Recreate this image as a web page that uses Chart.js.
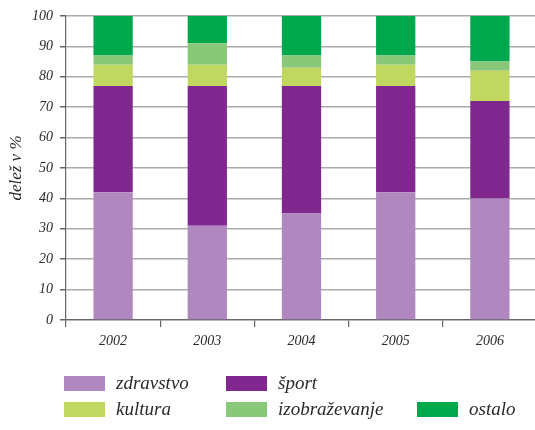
<!DOCTYPE html>
<html><head><meta charset="utf-8">
<script src="https://cdn.jsdelivr.net/npm/chart.js@4/dist/chart.umd.min.js"></script>
<style>
html,body{margin:0;padding:0;background:#fff;overflow:hidden;width:535px;height:430px;}
#wrap{position:absolute;left:0;top:0;width:540px;height:430px;}
#legend{position:absolute;left:0;top:0;width:535px;height:430px;pointer-events:none;font-family:"Liberation Serif",serif;font-style:italic;font-size:19px;color:#2a2a2a;}
.li{position:absolute;display:flex;align-items:center;}
.sw{width:41px;height:15px;margin-right:11px;}
</style></head>
<body>
<div id="wrap"><canvas id="c" width="540" height="430"></canvas></div>
<div id="legend"></div>
<script>
const categories = ["2002","2003","2004","2005","2006"];
const seriesNames = ["zdravstvo","šport","kultura","izobraževanje","ostalo"];
const zdravstvo = [42,31,35,42,40];
const sport = [35,46,42,35,32];
const kultura = [7,7,6,7,10];
const izobrazevanje = [3,7,4,3,3];
const ostalo = [13,9,13,13,15];
const yTicks = [0,10,20,30,40,50,60,70,80,90,100];
const colors = ["#b088bf","#80288f","#c0d860","#88c878","#00a84c"];
const values = [zdravstvo, sport, kultura, izobrazevanje, ostalo];

const font = {family:"'Liberation Serif', serif", style:"italic", size:14};
new Chart(document.getElementById('c'), {
  type:'bar',
  data:{labels:categories, datasets: seriesNames.map((n,i)=>({label:n,data:values[i],backgroundColor:colors[i],borderWidth:0,barPercentage:0.417,categoryPercentage:1}))},
  options:{
    responsive:false, animation:false,
    layout:{padding:{top:16,right:3,bottom:80,left:0}},
    plugins:{legend:{display:false},tooltip:{enabled:false}},
    scales:{
      x:{stacked:true,
        grid:{display:true,drawOnChartArea:false,drawTicks:true,tickLength:7,color:'#666',lineWidth:1.2},
        border:{display:true,color:'#666',width:1.2},
        ticks:{font:font,color:'#2a2a2a',padding:6},
        afterFit:(a)=>{a.height=30;}
      },
      y:{stacked:true,min:0,max:100,
        afterBuildTicks:(a)=>{a.ticks=yTicks.map(v=>({value:v}));},
        grid:{color:'#aaaaaa',lineWidth:1.5,tickLength:6,tickColor:'#666'},
        border:{display:true,color:'#666',width:1.2},
        ticks:{font:font,color:'#2a2a2a',padding:7},
        title:{display:true,text:'delež v %',font:{family:"'Liberation Serif', serif",style:'italic',size:17},color:'#2a2a2a',padding:{top:6,bottom:0}},
        afterFit:(a)=>{a.width=66;}
      }
    }
  }
});

const pos = [[64,372],[226,372],[64,398],[226,398],[417,398]];
const lg = document.getElementById('legend');
seriesNames.forEach((n,i)=>{
  const d=document.createElement('div');d.className='li';
  d.style.left=pos[i][0]+'px';d.style.top=pos[i][1]+'px';
  d.innerHTML='<div class="sw" style="background:'+colors[i]+'"></div><span>'+n+'</span>';
  lg.appendChild(d);
});
</script>
</body></html>
